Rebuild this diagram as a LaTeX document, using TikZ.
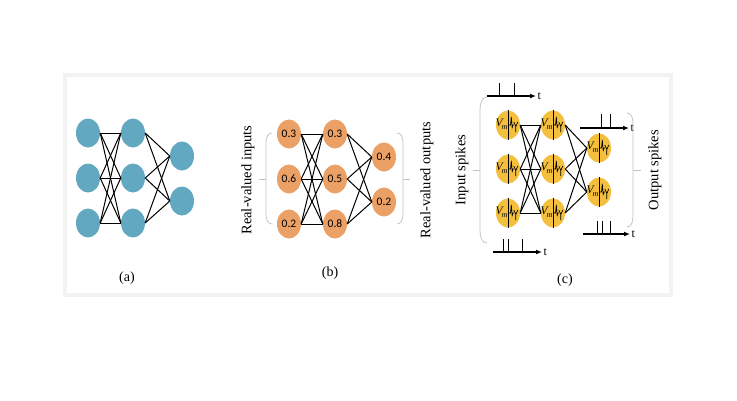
\documentclass[tikz,border=0pt]{standalone}
\usepackage{fontspec}
\setmainfont{Liberation Serif}
\newfontfamily\numfont{Carlito}
\usetikzlibrary{shapes.geometric,arrows.meta}
\definecolor{nblue}{HTML}{62A8C1}
\definecolor{norange}{HTML}{EBA066}
\definecolor{nyellow}{HTML}{F4BF3C}
\definecolor{framegray}{HTML}{F2F2F2}
\definecolor{brgray}{HTML}{C4C4C4}
\tikzset{
  nbase/.style={ellipse, inner sep=0pt, minimum width=24pt, minimum height=29pt},
  nA/.style={nbase, fill=nblue},
  nB/.style={nbase, fill=norange, font=\numfont\fontsize{11.5}{13}\selectfont},
  nC/.style={nbase, fill=nyellow},
  link/.style={black, line width=1pt},
  brack/.style={brgray, line width=0.8pt},
  axisarrow/.style={line width=1.4pt, -{Latex[length=6pt,width=5pt]}},
  spike/.style={line width=1pt},
  tlabel/.style={font=\fontsize{12}{14}\selectfont, inner sep=1pt, anchor=west},
  caption/.style={font=\fontsize{14}{16}\selectfont},
  sidelabel/.style={font=\fontsize{14.5}{16}\selectfont, rotate=90},
}
\begin{document}
\begin{tikzpicture}[x=1pt,y=-1pt]
\useasboundingbox (0,0) rectangle (737,400);
\fill[white] (0,0) rectangle (737,400);
\draw[framegray, line width=4pt] (65,75) rectangle (671,295);

% ---------- panel (a)
\foreach \i/\y in {1/133,2/178,3/223}{
  \node[nA] (a1\i) at (88,\y) {};
  \node[nA] (a2\i) at (133,\y) {};
}
\node[nA] (a31) at (182,156) {};
\node[nA] (a32) at (182,201) {};
\foreach \i in {1,2,3}{
  \foreach \j in {1,2,3}{ \draw[link] (a1\i.east) -- (a2\j.west); }
  \foreach \j in {1,2}{ \draw[link] (a2\i.east) -- (a3\j.west); }
}
\node[caption] (capa) at (127,278) {(a)};

% ---------- panel (b)
\node[nB] (b11) at (289,134) {0.3};
\node[nB] (b12) at (289,179) {0.6};
\node[nB] (b13) at (289,224) {0.2};
\node[nB] (b21) at (335,134) {0.3};
\node[nB] (b22) at (335,179) {0.5};
\node[nB] (b23) at (335,224) {0.8};
\node[nB] (b31) at (384,157) {0.4};
\node[nB] (b32) at (384,202) {0.2};
\foreach \i in {1,2,3}{
  \foreach \j in {1,2,3}{ \draw[link] (b1\i.east) -- (b2\j.west); }
  \foreach \j in {1,2}{ \draw[link] (b2\i.east) -- (b3\j.west); }
}
\draw[brack] (272,133) to[out=180,in=90] (266,142) -- (266,214) to[out=-90,in=180] (272,224);
\draw[brack] (266,179) -- (259,179);
\draw[brack] (397,133) to[out=0,in=90] (403,142) -- (403,214) to[out=-90,in=0] (397,224);
\draw[brack] (403,179) -- (410,179);
\node[sidelabel] (inb) at (248,180) {Real-valued inputs};
\node[sidelabel] (outb) at (427,180) {Real-valued outputs};
\node[caption] (capb) at (330,273) {(b)};

% ---------- panel (c)
\node[nC] (c11) at (508,125) {};
\node[nC] (c12) at (508,169) {};
\node[nC] (c13) at (508,213) {};
\node[nC] (c21) at (553,125) {};
\node[nC] (c22) at (553,169) {};
\node[nC] (c23) at (553,213) {};
\node[nC] (c31) at (599,148) {};
\node[nC] (c32) at (599,192) {};
\foreach \i in {1,2,3}{
  \foreach \j in {1,2,3}{ \draw[link] (c1\i.east) -- (c2\j.west); }
  \foreach \j in {1,2}{ \draw[link] (c2\i.east) -- (c3\j.west); }
}
\foreach \n in {c11,c12,c13,c21,c22,c23,c31,c32}{
  \draw[line width=1pt] (\n.north) -- (\n.south);
  \node[font=\fontsize{11.5}{12}\selectfont\itshape, inner sep=0pt, anchor=east] at ([xshift=-0.3pt,yshift=1pt]\n.center) {V\kern-1pt\raisebox{-2.5pt}{\fontsize{8}{9}\selectfont m}};
  \begin{scope}[shift={(\n.center)}]
    \draw[line width=0.7pt, line join=round] (0,0) -- (2.5,0) -- (3.3,-8) -- (4.2,3) -- (4.8,0) -- (5.8,0);
    \draw[line width=0.7pt, line join=round] (5.8,-3) -- (7.8,1.5) -- (9.8,-3) (7.8,1.5) -- (7.8,7);
  \end{scope}
}
% spike trains
\coordinate (s1a) at (487,96); \coordinate (s1b) at (536,96);
\draw[axisarrow] (s1a) -- (s1b) node[tlabel] {t};
\foreach \x in {499,514}{ \draw[spike] (\x,96) -- (\x,83); }
\coordinate (s2a) at (493,252); \coordinate (s2b) at (542,252);
\draw[axisarrow] (s2a) -- (s2b) node[tlabel] {t};
\foreach \x in {503,508,522}{ \draw[spike] (\x,252) -- (\x,239); }
\coordinate (s3a) at (580,128); \coordinate (s3b) at (629,128);
\draw[axisarrow] (s3a) -- (s3b) node[tlabel] {t};
\foreach \x in {601,610}{ \draw[spike] (\x,128) -- (\x,114); }
\coordinate (s4a) at (583,234); \coordinate (s4b) at (630,234);
\draw[axisarrow] (s4a) -- (s4b) node[tlabel] {t};
\foreach \x in {597,602,610}{ \draw[spike] (\x,234) -- (\x,221); }
% brackets
\draw[brack] (487,97) to[out=180,in=90] (480,110) -- (480,230) to[out=-90,in=180] (487,243);
\draw[brack] (480,170) -- (473,170);
\draw[brack] (627,113) to[out=0,in=90] (633,124) -- (633,216) to[out=-90,in=0] (627,227);
\draw[brack] (633,170) -- (641,170);
\node[sidelabel] (inc) at (462,170) {Input spikes};
\node[sidelabel] (outc) at (655,170) {Output spikes};
\node[caption] (capc) at (565,280) {(c)};
\end{tikzpicture}
\end{document}
